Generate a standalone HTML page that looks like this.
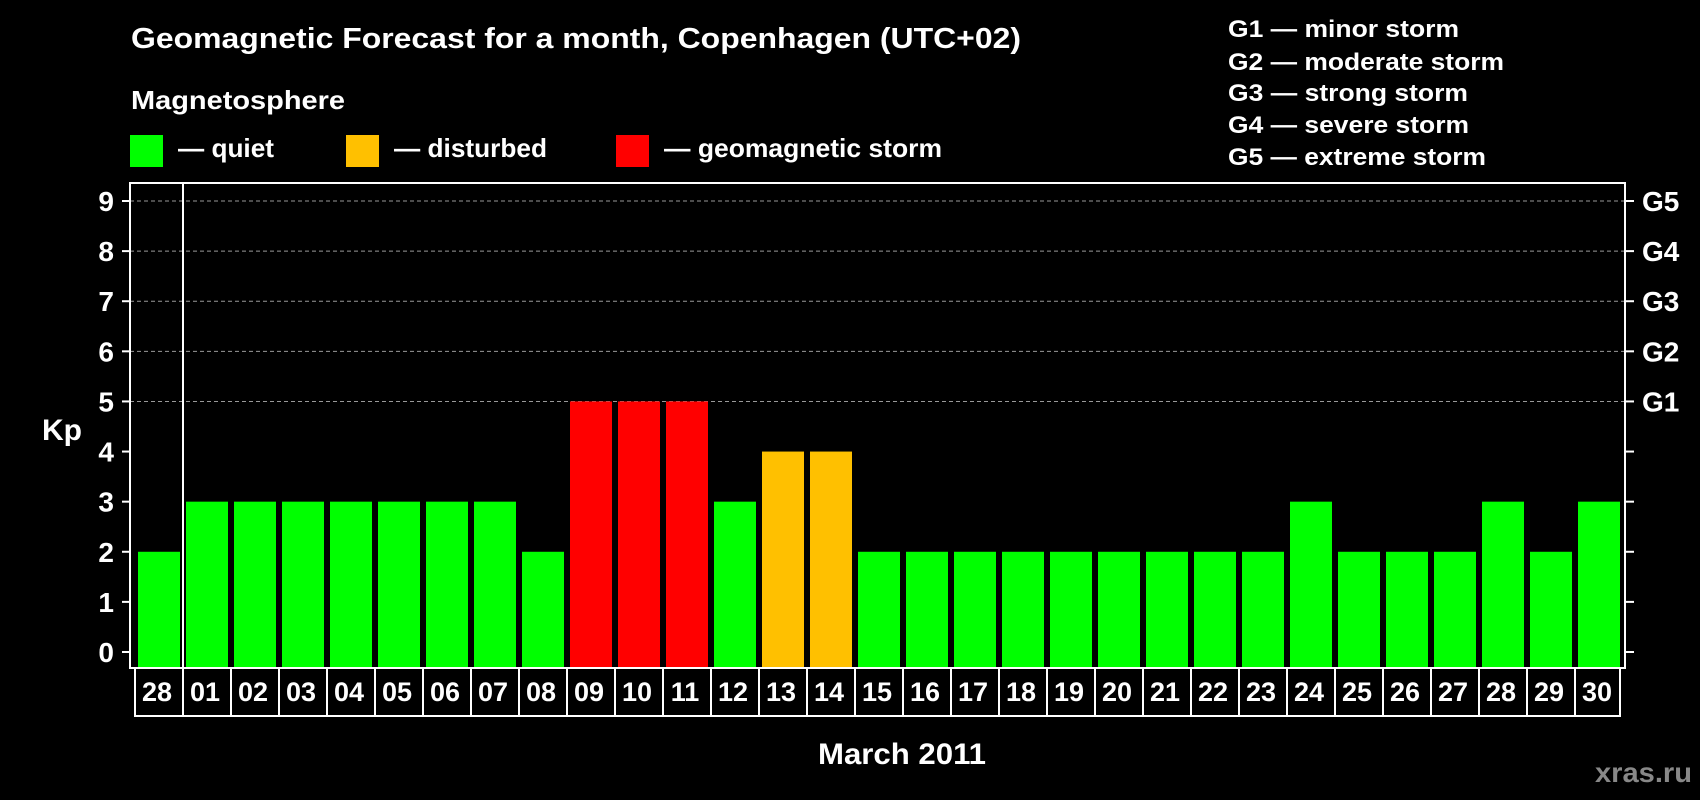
<!DOCTYPE html>
<html><head><meta charset="utf-8"><style>
html,body{margin:0;padding:0;background:#000;}
svg{display:block;font-family:"Liberation Sans",Arial,sans-serif;font-weight:bold;}
</style></head><body>
<svg id="chart" width="1700" height="800" viewBox="0 0 1700 800">
<rect x="0" y="0" width="1700" height="800" fill="#000"/>
<text x="131" y="48" fill="#fff" font-size="29" textLength="890" lengthAdjust="spacingAndGlyphs">Geomagnetic Forecast for a month, Copenhagen (UTC+02)</text>
<text x="131" y="109" fill="#fff" font-size="26" textLength="214" lengthAdjust="spacingAndGlyphs">Magnetosphere</text>
<g>
<rect x="130" y="135" width="33" height="32" fill="#00ff00"/>
<text x="178" y="157" fill="#fff" font-size="26" textLength="96" lengthAdjust="spacingAndGlyphs">— quiet</text>
</g>
<g>
<rect x="346" y="135" width="33" height="32" fill="#ffc000"/>
<text x="394" y="157" fill="#fff" font-size="26" textLength="153" lengthAdjust="spacingAndGlyphs">— disturbed</text>
</g>
<g>
<rect x="616" y="135" width="33" height="32" fill="#ff0000"/>
<text x="664" y="157" fill="#fff" font-size="26" textLength="278" lengthAdjust="spacingAndGlyphs">— geomagnetic storm</text>
</g>
<g fill="#fff" font-size="24">
<text x="1228" y="37" textLength="231" lengthAdjust="spacingAndGlyphs">G1 — minor storm</text>
<text x="1228" y="70" textLength="276" lengthAdjust="spacingAndGlyphs">G2 — moderate storm</text>
<text x="1228" y="101" textLength="240" lengthAdjust="spacingAndGlyphs">G3 — strong storm</text>
<text x="1228" y="133" textLength="241" lengthAdjust="spacingAndGlyphs">G4 — severe storm</text>
<text x="1228" y="165" textLength="258" lengthAdjust="spacingAndGlyphs">G5 — extreme storm</text>
</g>
<text x="42" y="440" fill="#fff" font-size="30">Kp</text>
<text x="818" y="764" fill="#fff" font-size="30" textLength="168" lengthAdjust="spacingAndGlyphs">March 2011</text>
<text x="1595" y="782" fill="#888" font-size="28" textLength="97" lengthAdjust="spacingAndGlyphs">xras.ru</text>
<g id="plot"></g>
</svg>
<script>
const days = ["28","01","02","03","04","05","06","07","08","09","10","11","12","13","14","15","16","17","18","19","20","21","22","23","24","25","26","27","28","29","30"];
const kpValues = [2,3,3,3,3,3,3,3,2,5,5,5,3,4,4,2,2,2,2,2,2,2,2,2,3,2,2,2,3,2,3];
const yTicks = [0,1,2,3,4,5,6,7,8,9];
const gLabels = ["G1","G2","G3","G4","G5"];
const gLevels = [5,6,7,8,9];

const NS = "http://www.w3.org/2000/svg";
const plot = document.getElementById("plot");
const L = 130, R = 1625, T = 183, B = 668;
const x0 = 133, slot = 48;
function yScale(v){ return 652 - v * (652 - 201) / 9; }
function xScale(i){ return x0 + i * slot; }
function mk(tag, attrs){ const e = document.createElementNS(NS, tag); for (const k in attrs) e.setAttribute(k, attrs[k]); plot.appendChild(e); return e; }
function colorFor(v){ return v >= 5 ? "#ff0000" : (v >= 4 ? "#ffc000" : "#00ff00"); }

yTicks.forEach(v => {
  const y = yScale(v);
  if (v >= 5) {
    const g = mk("line", {x1:L, x2:R, y1:y, y2:y, stroke:"#999", "stroke-width":1, "stroke-dasharray":"4,3"});
    
    
  }
  const t = mk("line", {x1:122, x2:L, y1:y, y2:y, stroke:"#fff", "stroke-width":2});
  
  
  const rt = mk("line", {x1:R, x2:1634, y1:y, y2:y, stroke:"#fff", "stroke-width":2});
  
  
  const lab = mk("text", {x:114, y:y+10, fill:"#fff", "font-size":28, "text-anchor":"end"});
  lab.textContent = v;
  
  
});
gLabels.forEach((g, i) => {
  const lab = mk("text", {x:1642, y:yScale(gLevels[i])+10, fill:"#fff", "font-size":28});
  lab.textContent = g;
  
  
});

kpValues.forEach((v, i) => {
  const x = xScale(i);
  const b = mk("rect", {x:x+5, y:yScale(v), width:42, height:B - 1 - yScale(v), fill:colorFor(v)});
  
  
  const lab = mk("text", {x:x+slot/2, y:701, fill:"#fff", "font-size":27, "text-anchor":"middle"});
  lab.textContent = days[i];
  
  
  if (i > 0) {
    const d = mk("line", {x1:x+2, x2:x+2, y1:B, y2:716, stroke:"#fff", "stroke-width":2});
    
    
  }
});
const box = mk("rect", {x:135, y:B, width:xScale(days.length)-135-1, height:48, fill:"none", stroke:"#fff", "stroke-width":2});


const frame = mk("rect", {x:L, y:T, width:R-L, height:B-T, fill:"none", stroke:"#fff", "stroke-width":2});


const sep = mk("line", {x1:183, x2:183, y1:T, y2:B, stroke:"#fff", "stroke-width":2});


</script>
</body></html>
